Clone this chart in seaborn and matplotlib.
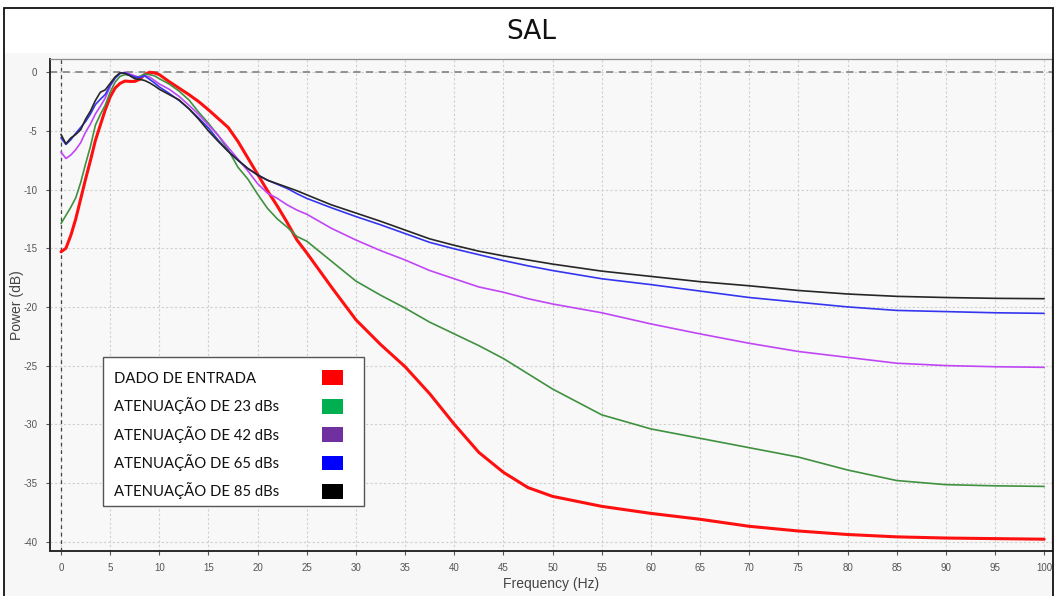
import matplotlib
matplotlib.use("Agg")
import matplotlib.pyplot as plt
from matplotlib.patches import Rectangle, Patch
from matplotlib.legend_handler import HandlerPatch
from matplotlib.offsetbox import DrawingArea
import numpy as np
import pandas as pd
import seaborn as sns

# Frequency axis (Hz)
freq = [0, 0.5, 1, 1.5, 2, 2.5, 3, 3.5, 4, 4.5, 5, 5.5, 6, 6.5, 7, 7.5, 8, 8.5, 9, 9.5,
        10, 11, 12, 13, 14, 15, 16, 17, 18, 19, 20, 21, 22, 23, 24, 25,
        27.5, 30, 32.5, 35, 37.5, 40, 42.5, 45, 47.5, 50,
        55, 60, 65, 70, 75, 80, 85, 90, 95, 100]

# Power spectra (dB)
dado_entrada = [-15.3, -15.0, -13.9, -12.5, -10.8, -9.1, -7.5, -5.8, -4.5, -3.2,
                -2.1, -1.35, -0.95, -0.75, -0.78, -0.78, -0.6, -0.2, 0.0, -0.05,
                -0.2, -0.8, -1.35, -1.9, -2.5, -3.2, -3.95, -4.7, -5.9, -7.3,
                -8.7, -10.1, -11.4, -12.8, -14.3, -15.4,
                -18.3, -21.1, -23.2, -25.1, -27.4, -30.0, -32.4, -34.1, -35.4, -36.15,
                -37.0, -37.6, -38.1, -38.7, -39.1, -39.4, -39.6, -39.7, -39.75, -39.8]

aten_23 = [-12.9, -12.2, -11.5, -10.7, -9.4, -7.8, -6.3, -4.5, -3.6, -2.8,
           -1.7, -0.85, -0.35, -0.2, -0.23, -0.45, -0.35, -0.15, -0.2, -0.3,
           -0.55, -1.0, -1.6, -2.35, -3.4, -4.35, -5.4, -6.6, -8.1, -9.1,
           -10.4, -11.6, -12.5, -13.2, -14.0, -14.4,
           -16.1, -17.8, -19.0, -20.1, -21.3, -22.3, -23.3, -24.4, -25.7, -27.0,
           -29.2, -30.4, -31.2, -32.0, -32.8, -33.9, -34.8, -35.15, -35.25, -35.3]

aten_42 = [-6.8, -7.35, -7.05, -6.6, -6.0, -5.1, -4.4, -3.55, -2.9, -2.2,
           -1.2, -0.5, -0.1, 0.0, -0.15, -0.3, -0.45, -0.3, -0.4, -0.7,
           -1.0, -1.45, -2.05, -2.8, -3.6, -4.5, -5.4, -6.4, -7.4, -8.4,
           -9.5, -10.3, -10.75, -11.3, -11.75, -12.1,
           -13.3, -14.3, -15.2, -16.0, -16.9, -17.6, -18.3, -18.75, -19.3, -19.75,
           -20.5, -21.45, -22.3, -23.1, -23.8, -24.3, -24.8, -25.0, -25.1, -25.15]

aten_65 = [-5.6, -6.15, -5.75, -5.2, -4.7, -4.2, -3.55, -2.75, -2.3, -1.9,
           -1.1, -0.5, -0.1, -0.05, -0.25, -0.4, -0.45, -0.3, -0.6, -0.9,
           -1.25, -1.8, -2.4, -3.1, -3.9, -4.75, -5.8, -6.7, -7.5, -8.2,
           -8.75, -9.2, -9.55, -9.9, -10.35, -10.75,
           -11.55, -12.3, -13.0, -13.75, -14.5, -15.05, -15.55, -16.05, -16.5, -16.9,
           -17.6, -18.1, -18.65, -19.2, -19.6, -20.0, -20.3, -20.4, -20.5, -20.55]

aten_85 = [-5.3, -6.1, -5.6, -5.3, -4.9, -4.0, -3.3, -2.4, -1.7, -1.5,
           -0.95, -0.4, -0.05, -0.1, -0.3, -0.55, -0.6, -0.7, -0.9, -1.15,
           -1.45, -1.9, -2.35, -3.1, -4.0, -5.0, -5.9, -6.75, -7.5, -8.2,
           -8.75, -9.2, -9.5, -9.8, -10.1, -10.45,
           -11.3, -12.0, -12.7, -13.45, -14.2, -14.75, -15.25, -15.65, -16.0, -16.35,
           -16.95, -17.4, -17.85, -18.2, -18.6, -18.9, -19.1, -19.2, -19.27, -19.3]

series_names = ["DADO DE ENTRADA", "ATENUAÇÃO DE 23 dBs", "ATENUAÇÃO DE 42 dBs",
                "ATENUAÇÃO DE 65 dBs", "ATENUAÇÃO DE 85 dBs"]
series_values = [dado_entrada, aten_23, aten_42, aten_65, aten_85]
line_colors = ["#ff1010", "#3f913f", "#c046f5", "#3535f0", "#262626"]
line_widths = [2.2, 1.2, 1.2, 1.2, 1.2]
legend_colors = ["#ff0000", "#00b050", "#7030a0", "#0000ff", "#000000"]

x_ticks = list(range(0, 101, 5))
y_ticks = list(range(-40, 1, 5))

df = pd.concat(
    [pd.DataFrame({"Frequency": freq, "Power": vals, "Serie": name})
     for name, vals in zip(series_names, series_values)],
    ignore_index=True,
)

sns.set_theme(style="ticks")
plt.rcParams["font.family"] = ["Liberation Sans", "DejaVu Sans"]
plt.rcParams["axes.unicode_minus"] = False

W, H = 1055, 596
fig = plt.figure(figsize=(W / 100, H / 100), dpi=100)
fig.patch.set_facecolor("white")

# light panel below the title band and outer frame
fig.patches.append(Rectangle((5 / W, -0.01), (1053 - 5) / W, (H - 53) / H + 0.01,
                             transform=fig.transFigure, facecolor="#f7f7f7",
                             edgecolor="none", zorder=-10))
fig.patches.append(Rectangle((4 / W, -0.02), (1053 - 4) / W, (H - 8) / H + 0.02,
                             transform=fig.transFigure, facecolor="none",
                             edgecolor="#111111", linewidth=1.3, zorder=10))

ax = fig.add_axes([50 / W, 1 - 550.7 / H, (1052 - 50) / W, (550.7 - 59) / H])
ax.set_facecolor("#f8f8f8")

for name, lw, col in zip(series_names, line_widths, line_colors):
    sns.lineplot(data=df[df["Serie"] == name], x="Frequency", y="Power",
                 color=col, linewidth=lw, ax=ax, legend=False,
                 zorder=3 if name == series_names[0] else 4)

ax.set_xlim(-1.12, 100.8)
ax.set_ylim(-40.78, 1.13)
ax.set_xticks(x_ticks)
ax.set_yticks(y_ticks)
ax.tick_params(axis="both", labelsize=7, colors="#555555", length=3, width=0.8,
               direction="out")
ax.tick_params(axis="x", pad=6)
ax.tick_params(axis="y", pad=6)
ax.grid(True, color="#cfcfcf", linestyle=(0, (2, 2)), linewidth=0.8)
ax.axhline(0, color="#8a8a8a", linestyle=(0, (4, 3)), linewidth=1.3, zorder=2)
ax.axvline(0, color="#444444", linestyle=(0, (3, 3)), linewidth=0.9, zorder=2)

for side in ["left", "bottom"]:
    ax.spines[side].set_color("#2a2a2a")
    ax.spines[side].set_linewidth(1.4)
for side in ["top", "right"]:
    ax.spines[side].set_color("#8c8c8c")
    ax.spines[side].set_linewidth(0.9)

ax.set_xlabel("Frequency (Hz)", fontsize=10, color="#444444")
ax.set_ylabel("Power (dB)", fontsize=10, color="#444444")
ax.xaxis.set_label_coords(0.5, -(584 - 550.7) / (550.7 - 59), transform=ax.transAxes)
ax.yaxis.set_label_coords(-(50 - 17) / (1052 - 50), 0.5, transform=ax.transAxes)
ax.xaxis.label.set_va("center")
ax.yaxis.label.set_va("center")

fig.text(531 / W, 1 - 32 / H, "SAL", ha="center", va="center", fontsize=19,
         color="#111111", family=["Liberation Sans Narrow", "DejaVu Sans"])

# legend: labels on the left, colour squares on the right
handles = [Patch(facecolor=c, edgecolor="none", label=n)
           for c, n in zip(legend_colors, series_names)]


def square(legend, orig_handle, xdescent, ydescent, width, height, fontsize):
    return Rectangle((-xdescent, -ydescent), width * 0.6, height)


leg = ax.legend(handles=handles, loc="lower left", bbox_to_anchor=(0.0529, 0.0909),
                borderaxespad=0, markerfirst=False, frameon=True, fancybox=False,
                framealpha=1, facecolor="white", edgecolor="#555555",
                prop={"family": "Lato", "size": 10.7},
                handlelength=2.37, handleheight=1.15, handletextpad=1.0,
                labelspacing=0.77, borderpad=0.45,
                handler_map={Patch: HandlerPatch(patch_func=square)})
leg.get_frame().set_linewidth(1.0)
for t in leg.get_texts():
    t.set_color("#111111")
for col in leg._legend_handle_box.get_children():
    for row in col.get_children():
        row.mode = "expand"
        row.width = 243
# extra room above the first entry and left of the labels
leg._legend_box._children[0] = DrawingArea(0, 5)
leg._legend_box.sep = 0
leg._legend_handle_box._children.insert(0, DrawingArea(3, 0))
leg._legend_handle_box.sep = 0

fig.savefig("out.png", dpi=100)
